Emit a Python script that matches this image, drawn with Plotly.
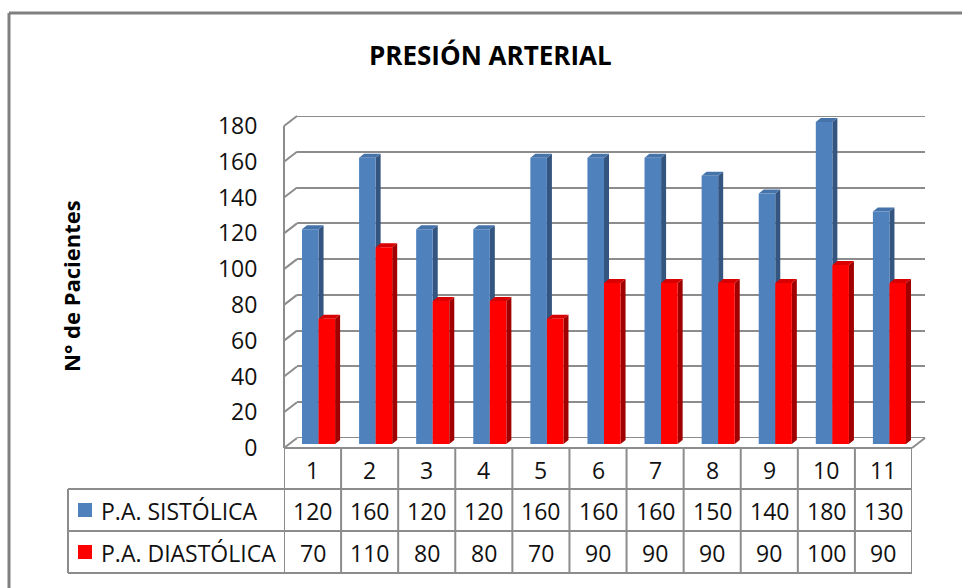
import plotly.graph_objects as go

# ---- data -------------------------------------------------------------
categorias = [1, 2, 3, 4, 5, 6, 7, 8, 9, 10, 11]
sistolica = [120, 160, 120, 120, 160, 160, 160, 150, 140, 180, 130]
diastolica = [70, 110, 80, 80, 70, 90, 90, 90, 90, 100, 90]
serie_nombres = ["P.A. SISTÓLICA", "P.A. DIASTÓLICA"]
y_ticks = [0, 20, 40, 60, 80, 100, 120, 140, 160, 180]
titulo = "PRESIÓN ARTERIAL"
titulo_y = "N° de Pacientes"

# ---- styling / geometry (pixels) --------------------------------------
W, H = 962, 588
FONT = "Open Sans"
GRID = "#8c8c8c"
BLUE, BLUE_SIDE, BLUE_TOP = "#4F81BD", "#34557F", "#4573AA"
RED, RED_SIDE, RED_TOP = "#FF0000", "#A00000", "#D80000"

# front plane of the 3-D box
FX0, FX1 = 284, 912
FY0, FY1 = 448, 126
# depth offsets (back wall and the plane the columns stand in)
BDX, BDY = 13, -10
MDX, MDY = 6, -4
YMAX = 180
YPAD = 12           # head-room above YMAX in the column plane
NCAT = len(categorias)
PX_PER_UNIT = (FY0 - FY1) / YMAX


def px(x):
    return x / W


def py(y):
    return 1 - y / H


def front_y(v):
    return FY0 - v * PX_PER_UNIT


fig = go.Figure()

# ---- bars (mid-depth plane, axes x3/y3) -------------------------------
bw = 0.29
fig.add_trace(go.Bar(x=categorias, y=sistolica, name=serie_nombres[0],
                     marker=dict(color=BLUE, line=dict(width=0)),
                     width=bw, offset=-bw, xaxis="x3", yaxis="y3"))
fig.add_trace(go.Bar(x=categorias, y=diastolica, name=serie_nombres[1],
                     marker=dict(color=RED, line=dict(width=0)),
                     width=bw, offset=0, xaxis="x3", yaxis="y3"))

# depth of the column faces, in axis units of the bar plane
dx = 5 * (NCAT / (FX1 - FX0))
dy = 4 / PX_PER_UNIT

shapes = []


def faces(xc, v, left_off, side_col, top_col):
    L = xc + left_off
    R = L + bw
    side = f"M {R},0 L {R+dx},{dy} L {R+dx},{v+dy} L {R},{v} Z"
    top = f"M {L},{v} L {L+dx},{v+dy} L {R+dx},{v+dy} L {R},{v} Z"
    return [dict(type="path", path=p, xref="x3", yref="y3",
                 fillcolor=c, line=dict(width=0), layer="below")
            for p, c in ((side, side_col), (top, top_col))]


for c, v in zip(categorias, sistolica):
    shapes += faces(c, v, -bw, BLUE_SIDE, BLUE_TOP)
for c, v in zip(categorias, diastolica):
    shapes += faces(c, v, 0, RED_SIDE, RED_TOP)


def line(x0, y0, x1, y1, color=GRID, width=2):
    return dict(type="line", xref="paper", yref="paper",
                x0=px(x0), y0=py(y0), x1=px(x1), y1=py(y1),
                line=dict(color=color, width=width), layer="below")


# back wall: lines at the two ends of the value range
for v in (y_ticks[0], y_ticks[-1]):
    shapes.append(dict(type="line", xref="x domain", yref="y",
                       x0=0, x1=1, y0=v, y1=v,
                       line=dict(color=GRID, width=2), layer="below"))
# left wall: front edge and the depth connectors of each gridline
shapes.append(line(FX0, front_y(0), FX0, front_y(YMAX)))
for v in y_ticks:
    shapes.append(line(FX0, front_y(v), FX0 + BDX, front_y(v) + BDY))
# floor: front edge and right depth edge
shapes.append(line(FX0, FY0, FX1, FY0))
shapes.append(line(FX1, FY0, FX1 + BDX, FY0 + BDY))

# ---- data table --------------------------------------------------------
T_LEFT = 68
ROW_Y = [448, 489, 531, 573]
for k in range(NCAT + 1):
    shapes.append(dict(type="line", xref="x2", yref="paper",
                       x0=k + 0.5, x1=k + 0.5, y0=py(ROW_Y[0]), y1=py(ROW_Y[3]),
                       line=dict(color=GRID, width=2), layer="below"))
for yy in ROW_Y[1:]:
    shapes.append(line(T_LEFT, yy, FX1, yy))
shapes.append(line(T_LEFT, ROW_Y[1], T_LEFT, ROW_Y[3]))

# legend keys inside the table
for i, col in enumerate((BLUE, RED)):
    cy = (ROW_Y[1 + i] + ROW_Y[2 + i]) / 2
    shapes.append(dict(type="rect", xref="paper", yref="paper",
                       x0=px(78), x1=px(92), y0=py(cy - 7), y1=py(cy + 7),
                       fillcolor=col, line=dict(width=0)))

# outer chart frame
shapes.append(line(9, 13, W + 2, 13, color="#808080", width=3))
shapes.append(line(9, 13, 9, H + 2, color="#808080", width=3))

annotations = []
num_font = dict(family=FONT, size=23, color="#111111")
for c in categorias:
    annotations.append(dict(x=c, xref="x2", y=py((ROW_Y[0] + ROW_Y[1]) / 2 + 1),
                            yref="paper", text=str(c), showarrow=False,
                            font=num_font, xanchor="center", yanchor="middle"))
for r, serie in enumerate((sistolica, diastolica)):
    cy = (ROW_Y[1 + r] + ROW_Y[2 + r]) / 2 + 1
    for c, v in zip(categorias, serie):
        annotations.append(dict(x=c, xref="x2", y=py(cy), yref="paper",
                                text=str(v), showarrow=False, font=num_font,
                                xanchor="center", yanchor="middle"))
    annotations.append(dict(x=px(99), xref="paper", y=py(cy), yref="paper",
                            text=serie_nombres[r], showarrow=False,
                            font=num_font, xanchor="left", yanchor="middle"))

annotations.append(dict(x=px(490), y=py(55), xref="paper", yref="paper",
                        text=f"<b>{titulo}</b>", showarrow=False,
                        font=dict(family=FONT, size=26, color="#000000"),
                        xanchor="center", yanchor="middle"))
annotations.append(dict(x=px(71), y=py(286), xref="paper", yref="paper",
                        text=f"<b>{titulo_y}</b>", showarrow=False, textangle=-90,
                        font=dict(family=FONT, size=22, color="#000000"),
                        xanchor="center", yanchor="middle"))

hidden_x = dict(visible=False, range=[0.5, NCAT + 0.5], fixedrange=True,
                automargin=False)

fig.update_layout(
    width=W, height=H, autosize=False,
    margin=dict(l=0, r=0, t=0, b=0, pad=0, autoexpand=False),
    paper_bgcolor="white", plot_bgcolor="rgba(0,0,0,0)",
    showlegend=False, barmode="overlay",
    font=dict(family=FONT),
    # back wall with the horizontal gridlines
    xaxis=dict(hidden_x, domain=[px(FX0 + BDX), px(FX1 + BDX)]),
    yaxis=dict(domain=[py(FY0 + BDY), py(FY1 + BDY)], range=[0, YMAX],
               tickvals=y_ticks, showgrid=True, gridcolor=GRID, gridwidth=2,
               zeroline=False, showticklabels=False, showline=False,
               anchor="x", fixedrange=True, automargin=False),
    # front plane carrying the value labels
    xaxis2=dict(hidden_x, domain=[px(FX0), px(FX1)], anchor="y2"),
    yaxis2=dict(domain=[py(FY0), py(FY1)], range=[0, YMAX], tickvals=y_ticks,
                showgrid=False, zeroline=False, showline=False,
                ticks="outside", ticklen=21, tickcolor="rgba(0,0,0,0)",
                tickfont=dict(family=FONT, size=23, color="#111111"),
                anchor="x2", fixedrange=True, automargin=False),
    # plane the columns stand in
    xaxis3=dict(hidden_x, domain=[px(FX0 + MDX), px(FX1 + MDX)], anchor="y3"),
    yaxis3=dict(visible=False,
                domain=[py(FY0 + MDY), py(FY1 + MDY - YPAD * PX_PER_UNIT)],
                range=[0, YMAX + YPAD], anchor="x3", fixedrange=True,
                automargin=False),
    shapes=shapes,
    annotations=annotations,
)

fig.write_html("out.html")
